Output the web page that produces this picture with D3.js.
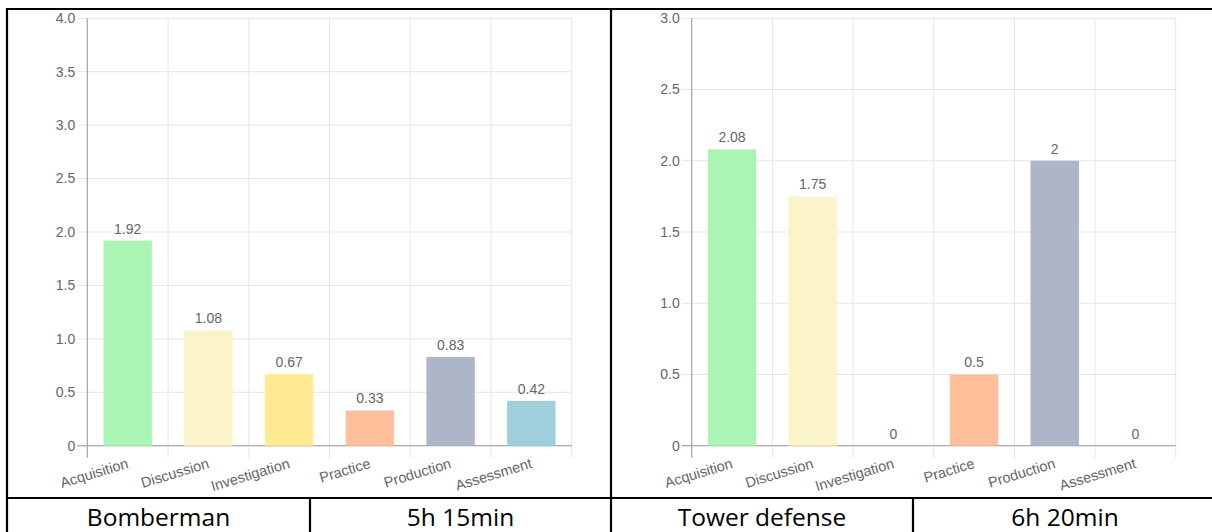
<!DOCTYPE html>
<html><head><meta charset="utf-8">
<script src="https://cdn.jsdelivr.net/npm/d3@7"></script>
<style>
html,body{margin:0;padding:0;background:#fff;}
svg{display:block;}
</style></head>
<body>
<svg id="chart" width="1212" height="532"></svg>
<script>
const categories = ["Acquisition","Discussion","Investigation","Practice","Production","Assessment"];
const barColors = ["#abf5b4","#faf4c8","#ffeb94","#ffbf9b","#adb6c8","#9fcfda"];
const bombermanValues = [1.92,1.08,0.67,0.33,0.83,0.42];
const towerValues = [2.08,1.75,0,0.5,2,0];
const bombermanTicks = [0,0.5,1.0,1.5,2.0,2.5,3.0,3.5,4.0];
const towerTicks = [0,0.5,1.0,1.5,2.0,2.5,3.0];
const gameNames = ["Bomberman","Tower defense"];
const durations = ["5h 15min","6h 20min"];

const svg = d3.select("#chart");
const FONT = "'Liberation Sans', Arial, Helvetica, sans-serif";

function drawChart(x0, x1, values, ticks, yMax) {
  const top = 18.3, bottom = 445.7;
  const x = d3.scaleBand().domain(categories).range([x0, x1]).paddingInner(0).paddingOuter(0);
  const y = d3.scaleLinear().domain([0, yMax]).range([bottom, top]);
  const g = svg.append("g");
  const fmt = v => v === 0 ? "0" : d3.format(".1f")(v);

  g.selectAll(".hg").data(ticks).join("line")
    .attr("x1", x0 - 10).attr("x2", x1)
    .attr("y1", d => y(d)).attr("y2", d => y(d))
    .attr("stroke", d => d === 0 ? "#b3b3b3" : "#e5e5e5").attr("stroke-width", 1);
  const edges = categories.map(c => x(c)).concat([x1]);
  g.selectAll(".vg").data(edges).join("line")
    .attr("x1", d => d).attr("x2", d => d)
    .attr("y1", top).attr("y2", bottom + 12)
    .attr("stroke", (d, i) => i === 0 ? "#b3b3b3" : "#e5e5e5").attr("stroke-width", 1);
  g.append("line").attr("x1", x0).attr("x2", x0).attr("y1", top).attr("y2", bottom + 12)
    .attr("stroke", "#a8a8a8");
  g.append("line").attr("x1", x0 - 10).attr("x2", x1).attr("y1", bottom).attr("y2", bottom)
    .attr("stroke", "#a8a8a8");

  g.selectAll(".yl").data(ticks).join("text")
    .attr("x", x0 - 12).attr("y", d => y(d)).attr("dy", "0.35em")
    .attr("text-anchor", "end").attr("font-family", FONT).attr("font-size", 14)
    .attr("fill", "#666").text(fmt);

  const bw = x.bandwidth() * 0.6;
  g.selectAll(".bar").data(values).join("rect")
    .attr("x", (d, i) => x(categories[i]) + (x.bandwidth() - bw) / 2)
    .attr("width", bw)
    .attr("y", d => y(d)).attr("height", d => bottom - y(d))
    .attr("fill", (d, i) => barColors[i]);

  g.selectAll(".vl").data(values).join("text")
    .attr("x", (d, i) => x(categories[i]) + x.bandwidth() / 2)
    .attr("y", d => y(d) - 7)
    .attr("text-anchor", "middle").attr("font-family", FONT).attr("font-size", 14)
    .attr("fill", "#666").text(d => d);

  g.selectAll(".xl").data(categories).join("text")
    .attr("transform", d => `translate(${x(d) + x.bandwidth() / 2},${bottom + 17}) rotate(-17)`)
    .attr("text-anchor", "end").attr("dy", "0.35em")
    .attr("font-family", FONT).attr("font-size", 14.5).attr("fill", "#666")
    .text(d => d);
}

drawChart(87.3, 571.7, bombermanValues, bombermanTicks, 4);
drawChart(691.7, 1175.7, towerValues, towerTicks, 3);

const border = svg.append("g").attr("stroke", "#000").attr("stroke-width", 2.2);
border.append("line").attr("x1", 6).attr("x2", 1212).attr("y1", 9).attr("y2", 9);
border.append("line").attr("x1", 7).attr("x2", 7).attr("y1", 8).attr("y2", 532);
border.append("line").attr("x1", 611).attr("x2", 611).attr("y1", 8).attr("y2", 532);
border.append("line").attr("x1", 6).attr("x2", 1212).attr("y1", 498).attr("y2", 498);
border.append("line").attr("x1", 310).attr("x2", 310).attr("y1", 498).attr("y2", 532);
border.append("line").attr("x1", 913).attr("x2", 913).attr("y1", 498).attr("y2", 532);

const cells = [
  {t: gameNames[0], c: 158.5},
  {t: durations[0], c: 460.5},
  {t: gameNames[1], c: 762},
  {t: durations[1], c: 1065}
];
svg.selectAll(".cell").data(cells).join("text")
  .attr("x", d => d.c).attr("y", 525.5)
  .attr("text-anchor", "middle")
  .attr("font-family", "'Open Sans', 'Noto Sans', sans-serif")
  .attr("font-size", 24.5).attr("fill", "#000")
  .text(d => d.t);
</script>
</body></html>
